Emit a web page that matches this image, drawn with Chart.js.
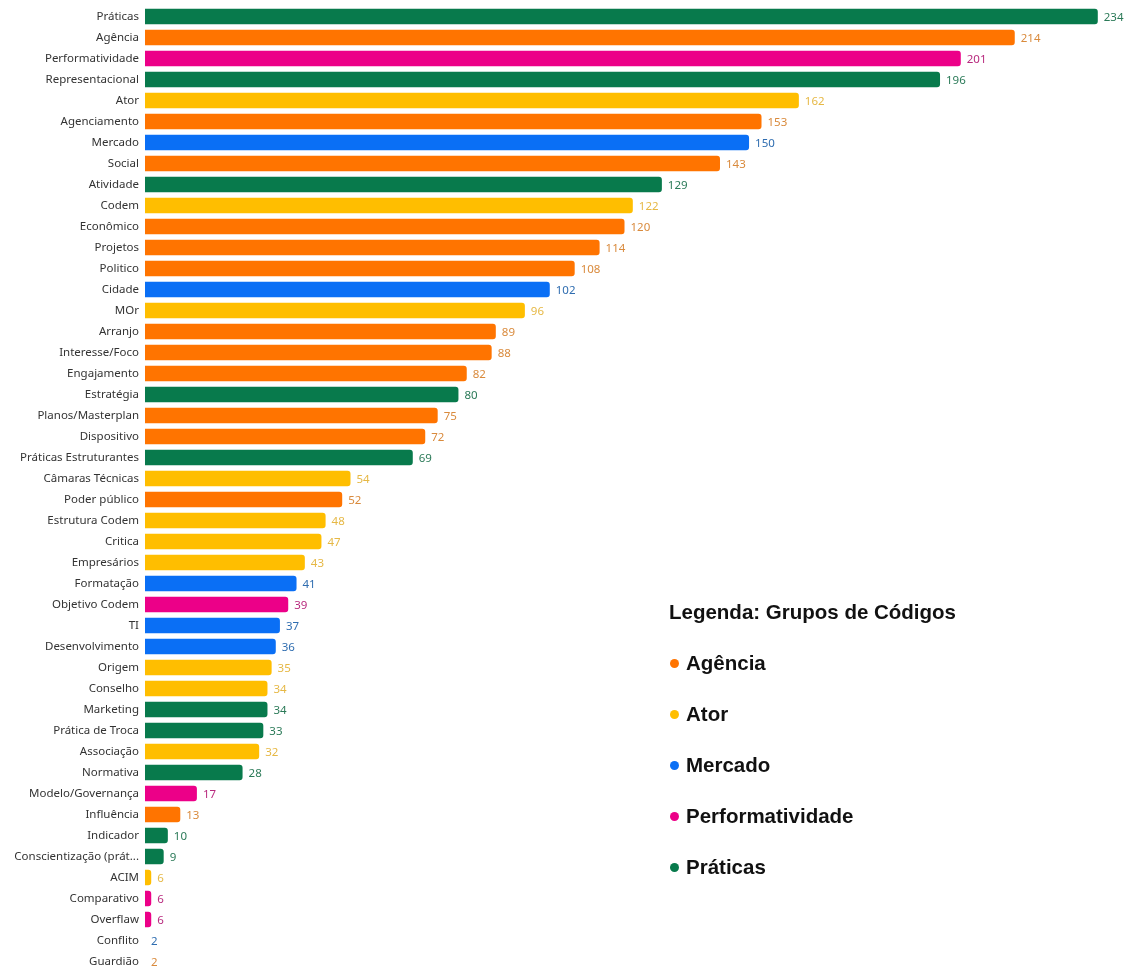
<!DOCTYPE html>
<html>
<head>
<meta charset="utf-8">
<script src="https://cdn.jsdelivr.net/npm/chart.js@4"></script>
<style>
  html, body { margin: 0; padding: 0; background: #fff; overflow: hidden; }
  #wrap { position: relative; width: 1131px; height: 969px; overflow: hidden; }
  #chart { position: absolute; left: 0; top: -7px; }
  #legend {
    position: absolute; left: 669px; top: 597px;
    font-family: "Liberation Sans", Arial, sans-serif; font-weight: bold; color: #111;
  }
  #legend .title { font-size: 20.5px; height: 51px; line-height: 30px; }
  #legend .item { font-size: 20.5px; height: 51px; line-height: 30px; position: relative; padding-left: 17px; }
  #legend .dot { position: absolute; left: 1px; top: 11px; width: 9px; height: 9px; border-radius: 50%; }
</style>
</head>
<body>
<div id="wrap">
  <canvas id="chart" width="1131" height="992"></canvas>
  <div id="legend"></div>
</div>
<script>
const categories = [
  "Práticas", "Agência", "Performatividade", "Representacional", "Ator", "Agenciamento",
  "Mercado", "Social", "Atividade", "Codem", "Econômico", "Projetos", "Politico", "Cidade",
  "MOr", "Arranjo", "Interesse/Foco", "Engajamento", "Estratégia", "Planos/Masterplan",
  "Dispositivo", "Práticas Estruturantes", "Câmaras Técnicas", "Poder público",
  "Estrutura Codem", "Critica", "Empresários", "Formatação", "Objetivo Codem", "TI",
  "Desenvolvimento", "Origem", "Conselho", "Marketing", "Prática de Troca", "Associação",
  "Normativa", "Modelo/Governança", "Influência", "Indicador", "Conscientização (prát...",
  "ACIM", "Comparativo", "Overflaw", "Conflito", "Guardião"
];
const values = [
  234, 214, 201, 196, 162, 153, 150, 143, 129, 122, 120, 114, 108, 102, 96, 89, 88, 82, 80, 75,
  72, 69, 54, 52, 48, 47, 43, 41, 39, 37, 36, 35, 34, 34, 33, 32, 28, 17, 13, 10, 9, 6, 6, 6, 2, 2
];
const groupOf = [
  "Práticas", "Agência", "Performatividade", "Práticas", "Ator", "Agência",
  "Mercado", "Agência", "Práticas", "Ator", "Agência", "Agência", "Agência", "Mercado",
  "Ator", "Agência", "Agência", "Agência", "Práticas", "Agência",
  "Agência", "Práticas", "Ator", "Agência",
  "Ator", "Ator", "Ator", "Mercado", "Performatividade", "Mercado",
  "Mercado", "Ator", "Ator", "Práticas", "Práticas", "Ator",
  "Práticas", "Performatividade", "Agência", "Práticas", "Práticas",
  "Ator", "Performatividade", "Performatividade", "Mercado", "Agência"
];
const groups = ["Agência", "Ator", "Mercado", "Performatividade", "Práticas"];
const barColors = ["#FF7400", "#FFBE00", "#0A6FF5", "#EC0088", "#087A4C"];
const labelColors = ["#D98A3C", "#E6B845", "#2F6DB0", "#B82A7E", "#2B7A58"];

const colorFor = (g, arr) => arr[groups.indexOf(g)];

// legend
const legendEl = document.getElementById("legend");
legendEl.innerHTML = '<div class="title">Legenda: Grupos de Códigos</div>' +
  groups.map((g, i) =>
    `<div class="item"><span class="dot" style="background:${barColors[i]}"></span>${g}</div>`
  ).join("");

const valueLabels = {
  id: "valueLabels",
  afterDatasetsDraw(chart) {
    const { ctx, chartArea } = chart;
    const meta = chart.getDatasetMeta(0);
    ctx.save();
    ctx.font = '11.5px "Noto Sans", sans-serif';
    ctx.textBaseline = "middle";
    ctx.textAlign = "left";
    meta.data.forEach((bar, i) => {
      const x = Math.max(bar.x, chartArea.left) + 6;
      ctx.fillStyle = colorFor(groupOf[i], labelColors);
      ctx.fillText(String(values[i]), x, bar.y + 1);
    });
    ctx.restore();
  }
};

new Chart(document.getElementById("chart"), {
  type: "bar",
  data: {
    labels: categories,
    datasets: [{
      data: values,
      backgroundColor: groupOf.map(g => colorFor(g, barColors)),
      borderRadius: 3,
      borderSkipped: false,
      barPercentage: 0.74,
      categoryPercentage: 1
    }]
  },
  options: {
    indexAxis: "y",
    responsive: false,
    animation: false,
    layout: { padding: { top: 6, bottom: 0, left: 0, right: 0 } },
    plugins: { legend: { display: false }, tooltip: { enabled: false } },
    scales: {
      x: {
        display: false,
        min: 4.5,
        max: 242
      },
      y: {
        grid: { display: false, drawTicks: false },
        border: { display: false },
        afterFit(scale) { scale.width = 145; },
        ticks: {
          autoSkip: false,
          padding: 6,
          color: "#333",
          font: { family: '"Noto Sans", sans-serif', size: 11.5 }
        }
      }
    }
  },
  plugins: [valueLabels]
});
</script>
</body>
</html>
